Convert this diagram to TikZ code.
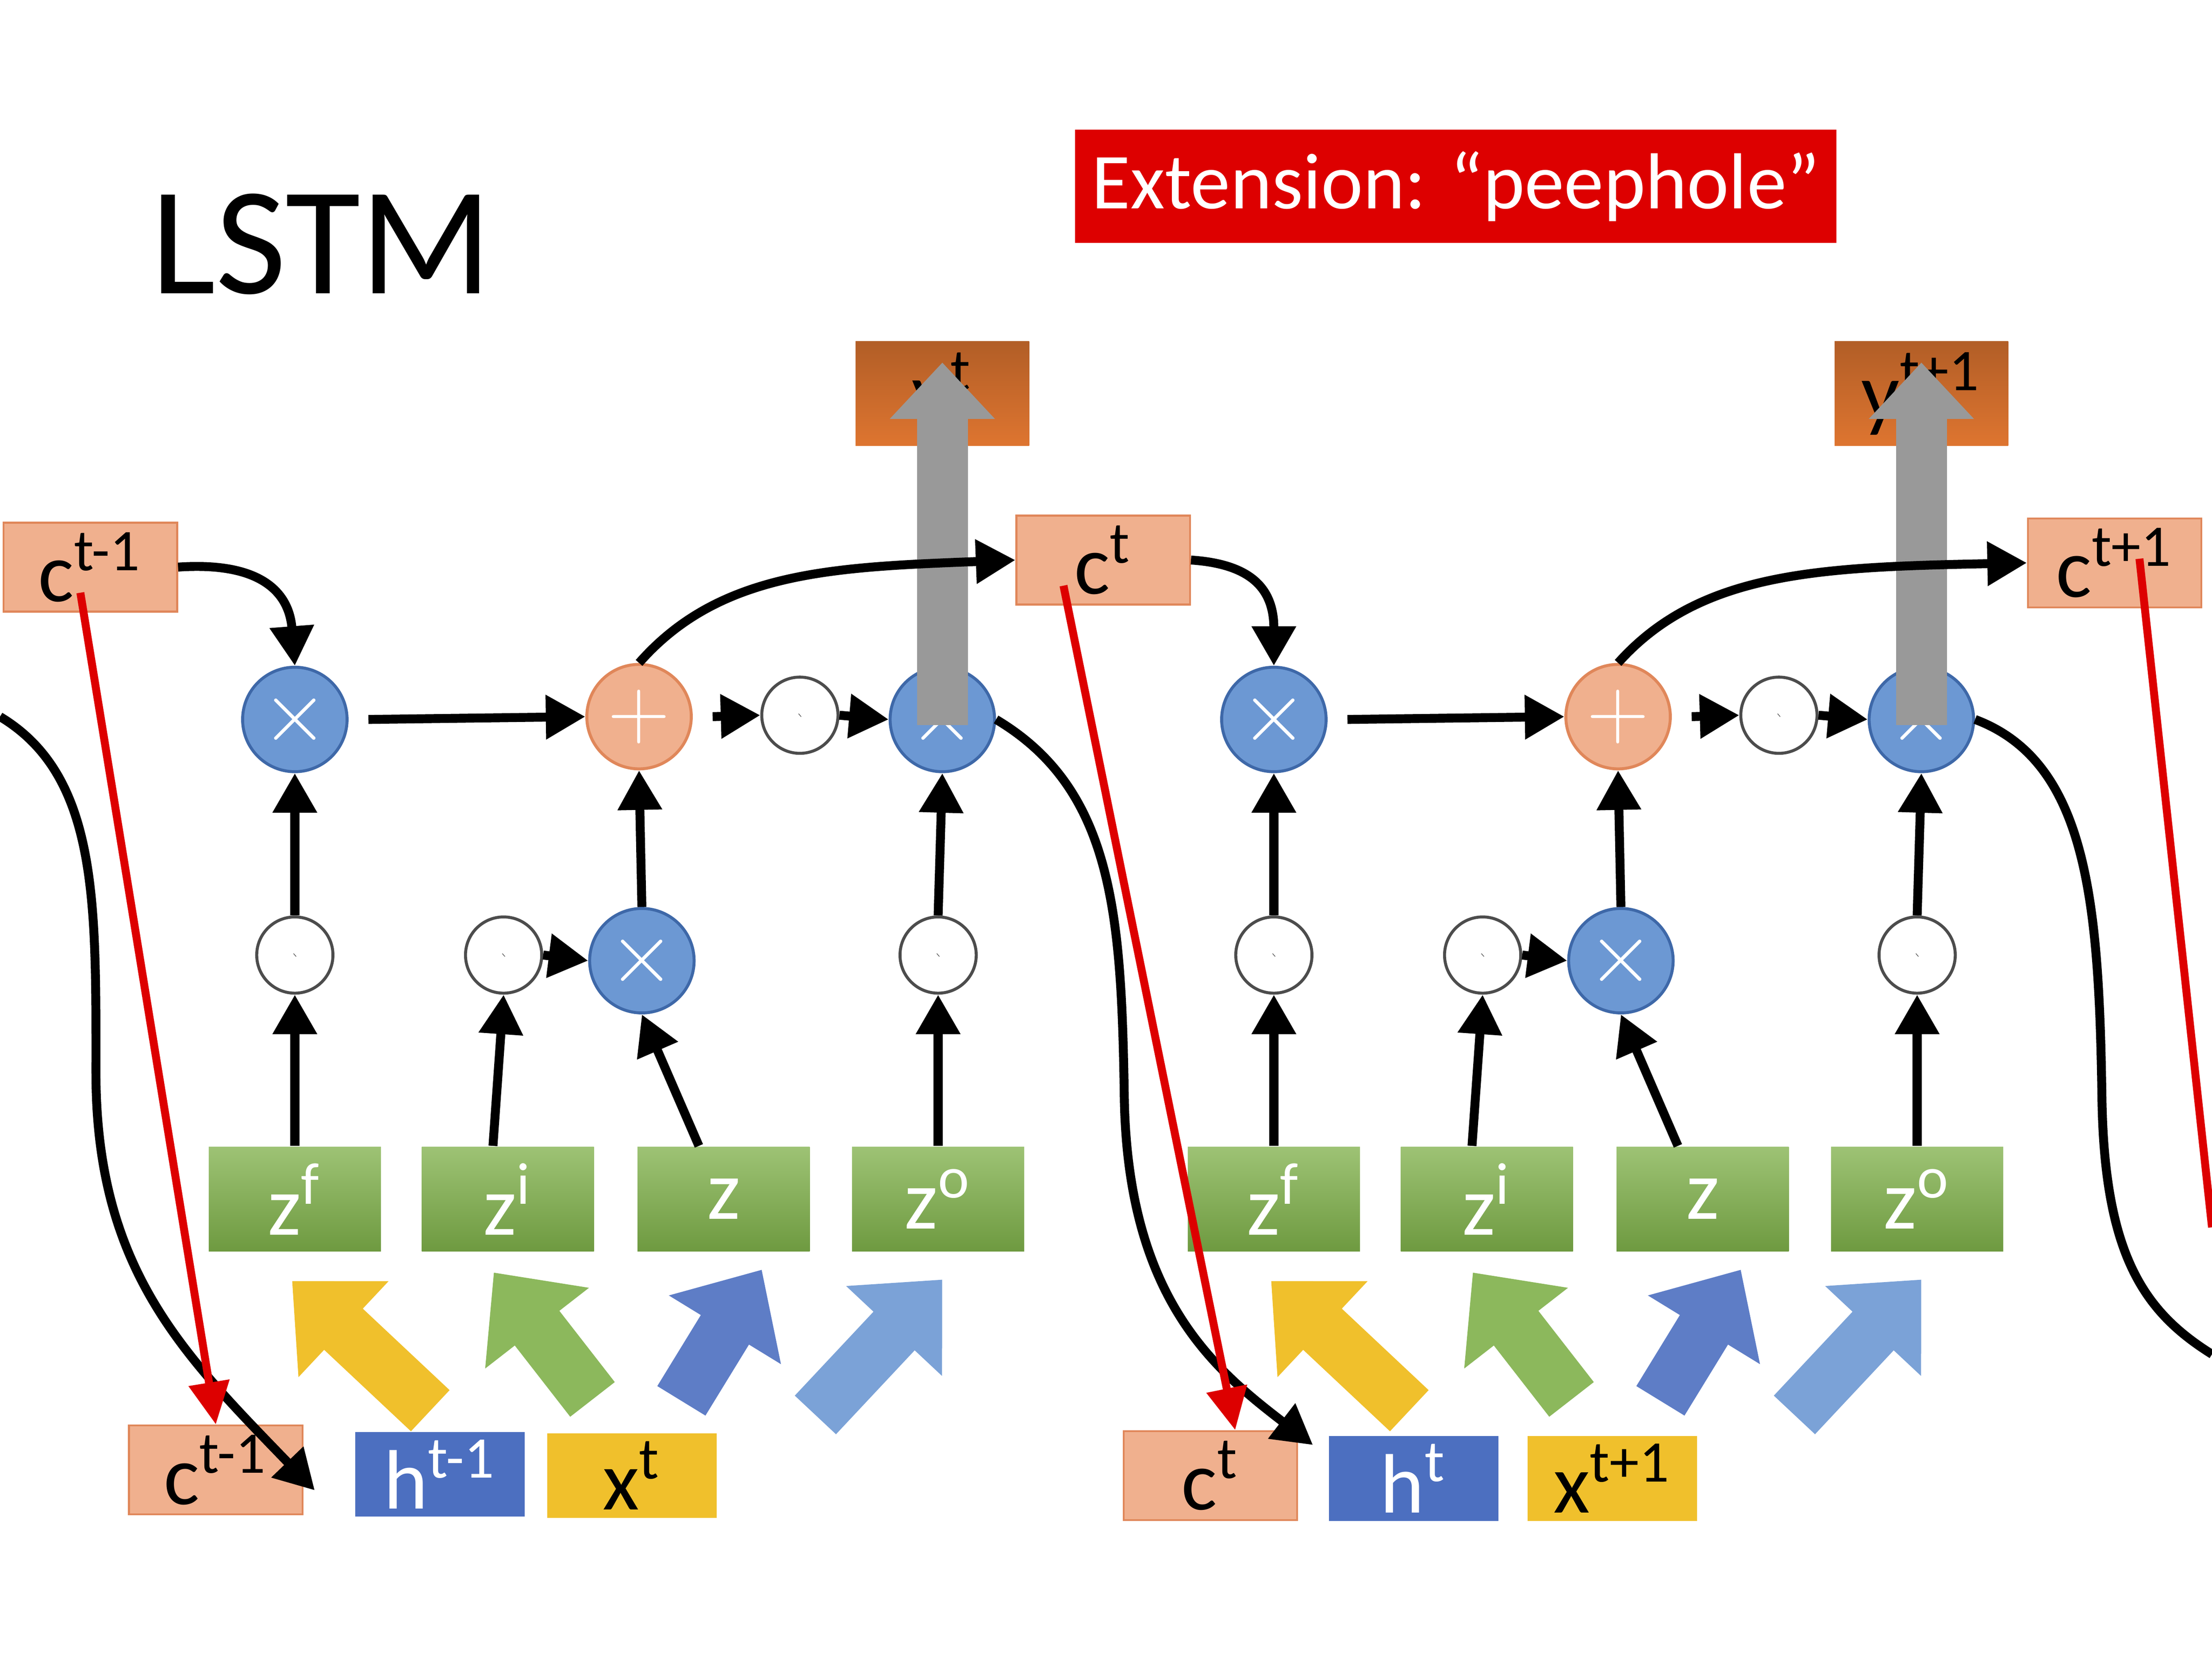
\documentclass[tikz,border=0pt]{standalone}
\usepackage{fontspec}
\setmainfont{Carlito}
\usetikzlibrary{arrows.meta}
\definecolor{salm}{HTML}{F0B08E}
\definecolor{salmd}{HTML}{E0875A}
\definecolor{gre}{HTML}{8CB85C}
\definecolor{gred}{HTML}{6E9A40}
\definecolor{cblue}{HTML}{6C98D3}
\definecolor{cblued}{HTML}{3E68A8}
\definecolor{hblue}{HTML}{4C6FC0}
\definecolor{yel}{HTML}{F0C02C}
\definecolor{ora}{HTML}{DE7530}
\definecolor{redx}{HTML}{DD0000}
\begin{document}
\begin{tikzpicture}[x=0.01cm,y=-0.01cm,
  lab/.style={font=\fontsize{17}{20}\selectfont, inner sep=0pt},
  cbox/.style={lab,fill=salm,draw=salmd,line width=0.4pt,minimum width=1.23cm,minimum height=0.63cm},
  zbox/.style={lab,text=white,top color=gre!85!white,bottom color=gred,minimum width=1.22cm,minimum height=0.74cm},
  ybox/.style={lab,top color=ora!80!black,bottom color=ora,minimum width=1.23cm,minimum height=0.74cm},
  hbox/.style={lab,fill=hblue,text=white,minimum width=1.2cm,minimum height=0.6cm},
  xbox/.style={lab,fill=yel,minimum width=1.2cm,minimum height=0.6cm},
  mul/.style={circle,fill=cblue,draw=cblued,line width=0.6pt,minimum size=0.74cm,inner sep=0pt,text=white,font=\fontsize{16}{16}\selectfont},
  add/.style={circle,fill=salm,draw=salmd,line width=0.6pt,minimum size=0.74cm,inner sep=0pt,text=white,font=\fontsize{18}{18}\selectfont},
  sig/.style={circle,fill=white,draw=black!70,line width=0.6pt,minimum size=0.54cm,inner sep=0pt,
    path picture={\draw[line width=0.8pt] (path picture bounding box.center) ++(-.15,.13) .. controls +(.2,0) and +(-.2,0) .. +(.30,-.26);}},
  arr/.style={line width=1.8pt,-{Triangle[width=0.3cm,length=0.28cm]}},
  red/.style={line width=1.6pt,draw=redx,-{Triangle[width=0.28cm,length=0.3cm]}},
  blk/.style={line width=0.4cm,-{Triangle[width=0.9cm,length=0.5cm]}},
  up/.style={line width=0.36cm,draw=black!40,-{Triangle[width=0.72cm,length=0.4cm]}}]
\useasboundingbox (0,0) rectangle (1568,1176);
\node[font=\fontsize{31}{36}\selectfont] (title) at (228,173) {LSTM};
\node[fill=redx,text=white,font=\fontsize{16}{20}\selectfont,minimum width=5.2cm,minimum height=0.8cm] (ext) at (1032,132) {Extension: “peephole”};
\node[cbox] (cA) at (64,402) {c\textsuperscript{t-1}};
\node[cbox] (cT) at (782,397) {c\textsuperscript{t}};
\node[cbox] (cT1) at (1499,399) {c\textsuperscript{t+1}};
\node[ybox] (ya) at (668,279) {y\textsuperscript{t}};
\node[ybox] (yb) at (1362,279) {y\textsuperscript{t+1}};
\node[cbox] (cbA) at (153,1042) {c\textsuperscript{t-1}};
\node[hbox] (hA) at (312,1045) {h\textsuperscript{t-1}};
\node[xbox] (xA) at (448,1046) {x\textsuperscript{t}};
\node[cbox] (cbB) at (858,1046) {c\textsuperscript{t}};
\node[hbox] (hB) at (1002,1048) {h\textsuperscript{t}};
\node[xbox] (xB) at (1143,1048) {x\textsuperscript{t+1}};
\foreach \m/\o in {a/0,b/694}{
 \begin{scope}[shift={(\o,0)}]
  \node[zbox] (zf\m) at (209,850) {z\textsuperscript{f}};
  \node[zbox] (zi\m) at (360,850) {z\textsuperscript{i}};
  \node[zbox] (z\m) at (513,850) {z};
  \node[zbox] (zo\m) at (665,850) {z\textsuperscript{o}};
  \node[mul] (xf\m) at (209,510) {$\times$};
  \node[add] (pl\m) at (453,508) {$+$};
  \node[sig] (sc\m) at (567,507) {};
  \node[mul] (xo\m) at (668,510) {$\times$};
  \node[sig] (sf\m) at (209,677) {};
  \node[sig] (si\m) at (357,677) {};
  \node[mul] (xi\m) at (455,681) {$\times$};
  \node[sig] (so\m) at (665,677) {};
  \draw[arr] (zf\m.north) -- (sf\m.south);
  \draw[arr] (sf\m.north) -- (xf\m.south);
  \draw[arr] ([xshift=-3]zi\m.north) -- (si\m.south);
  \draw[arr] (si\m.east) -- (xi\m.west);
  \draw[arr] ([xshift=-5]z\m.north) -- (xi\m.south);
  \draw[arr] (zo\m.north) -- (so\m.south);
  \draw[arr] (so\m.north) -- (xo\m.south);
  \draw[arr] (xi\m.north) -- (pl\m.south);
  \draw[arr] ([xshift=4]xf\m.east) -- (pl\m.west);
  \draw[arr] ([xshift=4]pl\m.east) -- (sc\m.west);
  \draw[arr] (sc\m.east) -- (xo\m.west);
  \draw[up] ([yshift=-12]xo\m.north) -- ([yshift=17]y\m.south);
  \coordinate (ay1\m) at (305,1000); \coordinate (ay2\m) at (207,908);
  \coordinate (ag1\m) at (420,992); \coordinate (ag2\m) at (350,902);
  \coordinate (ab1\m) at (483,993); \coordinate (ab2\m) at (540,900);
  \coordinate (al1\m) at (578,1003); \coordinate (al2\m) at (668,907);
  \draw[blk,draw=yel] (ay1\m) -- (ay2\m);
  \draw[blk,draw=gre] (ag1\m) -- (ag2\m);
  \draw[blk,draw=hblue!90!white] (ab1\m) -- (ab2\m);
  \draw[blk,draw=cblue!90!white] (al1\m) -- (al2\m);
 \end{scope}}
\draw[arr] (cA.east) .. controls (185,398) and (205,420) .. (xfa.north);
\draw[arr] (pla.north) .. controls (510,405) and (590,402) .. (cT.west);
\draw[arr] (cT.east) .. controls (890,400) and (903,420) .. (xfb.north);
\draw[arr] (plb.north) .. controls (1205,405) and (1290,402) .. (cT1.west);
\coordinate (lin) at (0,508);
\coordinate (rout) at (1568,960);
\coordinate (redout) at (1568,870);
\draw[arr] (lin) .. controls (70,550) and (68,640) .. (68,760) .. controls (68,900) and (130,960) .. ([xshift=-8,yshift=-12]hA.north west);
\draw[arr] (xoa.east) .. controls (790,560) and (795,650) .. (797,780) .. controls (800,920) and (860,970) .. ([xshift=-3,yshift=-2]hB.north west);
\draw[line width=1.8pt] (xob.east) .. controls (1480,540) and (1488,640) .. (1490,780) .. controls (1492,890) and (1520,930) .. (rout);
\draw[red] ([xshift=-2,yshift=4]cA.south) -- (cbA.north);
\draw[red] ([xshift=-8,yshift=4]cT.south) -- ([xshift=5]cbB.north);
\draw[line width=1.6pt,draw=redx] ([xshift=5,yshift=10]cT1.south) -- (redout);
\end{tikzpicture}
\end{document}
